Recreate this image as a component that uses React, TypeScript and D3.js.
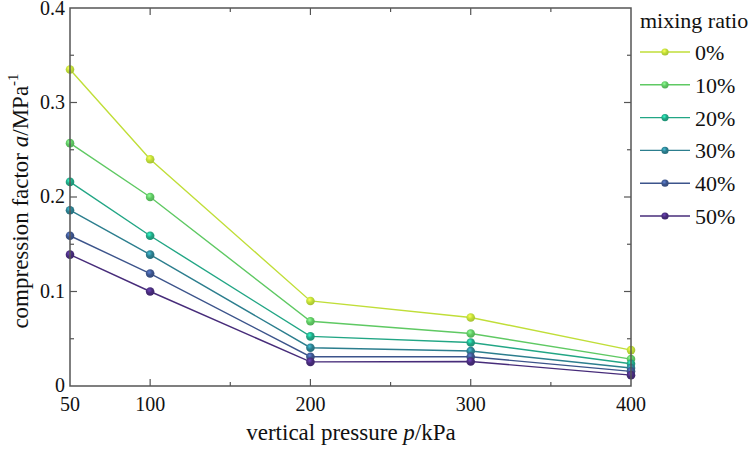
import React from "react";
import * as d3 from "d3";

const pressures = [50, 100, 200, 300, 400];
const seriesNames = ["0%", "10%", "20%", "30%", "40%", "50%"];
const s0 = [0.335, 0.24, 0.09, 0.0725, 0.038];
const s10 = [0.257, 0.2, 0.0685, 0.0555, 0.0285];
const s20 = [0.216, 0.159, 0.0525, 0.046, 0.0235];
const s30 = [0.186, 0.139, 0.0405, 0.037, 0.019];
const s40 = [0.159, 0.119, 0.031, 0.031, 0.0155];
const s50 = [0.139, 0.1, 0.0255, 0.026, 0.0115];
const seriesValues = [s0, s10, s20, s30, s40, s50];
const colors = ["#c0de38", "#5fc963", "#22a685", "#2c7e8e", "#3c548b", "#472c7a"];
const xTickLabels = [50, 100, 200, 300, 400];
const yTickLabels = [0, 0.1, 0.2, 0.3, 0.4];

const W = 751, H = 449;
const L = 70, R = 631, T = 8, B = 386;

export default function App() {
  const x = d3.scaleLinear().domain([50, 400]).range([L, R]);
  const y = d3.scaleLinear().domain([0, 0.4]).range([B, T]);
  const line = d3.line<number>().x((_, i) => x(pressures[i])).y((d) => y(d));
  const font = "'Liberation Serif', 'Times New Roman', serif";
  const axisColor = "#555";
  const xMajor = [100, 200, 300];
  const xMinor = [150, 250, 350];
  const yMinor = [0.05, 0.15, 0.25, 0.35];
  const yMajor = [0.1, 0.2, 0.3];

  return (
    <svg width={W} height={H} style={{ display: "block", position: "absolute", left: 0, top: 0, fontFamily: font }}>
      <defs>
        {colors.map((c, i) => (
          <radialGradient key={i} id={`g${i}`} cx="0.4" cy="0.35" r="0.65">
            <stop offset="0" stopColor={d3.color(c)!.brighter(1.2).formatHex()} />
            <stop offset="0.5" stopColor={c} />
            <stop offset="1" stopColor={d3.color(c)!.darker(0.4).formatHex()} />
          </radialGradient>
        ))}
      </defs>
      <rect width={W} height={H} fill="#fff" />
      {xMajor.map((v) => (
        <g key={"xm" + v}>
          <line x1={x(v)} x2={x(v)} y1={B} y2={B - 7} stroke={axisColor} strokeWidth={1.2} />
          <line x1={x(v)} x2={x(v)} y1={T} y2={T + 7} stroke={axisColor} strokeWidth={1.2} />
        </g>
      ))}
      {xMinor.map((v) => (
        <g key={"xn" + v}>
          <line x1={x(v)} x2={x(v)} y1={B} y2={B - 4} stroke={axisColor} strokeWidth={1.2} />
          <line x1={x(v)} x2={x(v)} y1={T} y2={T + 4} stroke={axisColor} strokeWidth={1.2} />
        </g>
      ))}
      {yMajor.map((v) => (
        <g key={"ym" + v}>
          <line x1={L} x2={L + 7} y1={y(v)} y2={y(v)} stroke={axisColor} strokeWidth={1.2} />
          <line x1={R} x2={R - 7} y1={y(v)} y2={y(v)} stroke={axisColor} strokeWidth={1.2} />
        </g>
      ))}
      {yMinor.map((v) => (
        <g key={"yn" + v}>
          <line x1={L} x2={L + 4} y1={y(v)} y2={y(v)} stroke={axisColor} strokeWidth={1.2} />
          <line x1={R} x2={R - 4} y1={y(v)} y2={y(v)} stroke={axisColor} strokeWidth={1.2} />
        </g>
      ))}
      {seriesValues.map((vals, i) => (
        <g key={"s" + i}>
          <path d={line(vals) || ""} fill="none" stroke={colors[i]} strokeWidth={1.4} />
          {vals.map((v, j) => (
            <circle key={j} cx={x(pressures[j])} cy={y(v)} r={4.3} fill={`url(#g${i})`} />
          ))}
        </g>
      ))}
      <rect x={L} y={T} width={R - L} height={B - T} fill="none" stroke={axisColor} strokeWidth={1.5} />
      {xTickLabels.map((v) => (
        <text key={"xl" + v} x={x(v)} y={411} fontSize={20} textAnchor="middle" fill="#111">{v}</text>
      ))}
      {yTickLabels.map((v) => (
        <text key={"yl" + v} x={65} y={y(v) + (v === 0.4 ? 7 : 6)} fontSize={20} textAnchor="end" fill="#111">{v === 0 ? "0" : v.toFixed(1)}</text>
      ))}
      <text x={351} y={440} fontSize={23} textAnchor="middle" fill="#111">
        vertical pressure <tspan fontStyle="italic">p</tspan>/kPa
      </text>
      <text transform={`translate(28, 201) rotate(-90)`} fontSize={23} textAnchor="middle" fill="#111">
        compression factor <tspan fontStyle="italic">a</tspan>/MPa<tspan fontSize={15} dy={-10}>-1</tspan>
      </text>
      <text x={640} y={28} fontSize={22} fill="#111">mixing ratio</text>
      {seriesNames.map((n, i) => {
        const ly = 52 + i * 32.8;
        return (
          <g key={"lg" + i}>
            <line x1={640} x2={690} y1={ly} y2={ly} stroke={colors[i]} strokeWidth={1.4} />
            <circle cx={665} cy={ly} r={3.6} fill={`url(#g${i})`} />
            <text x={695} y={ly + 8} fontSize={22} fill="#111">{n}</text>
          </g>
        );
      })}
    </svg>
  );
}
